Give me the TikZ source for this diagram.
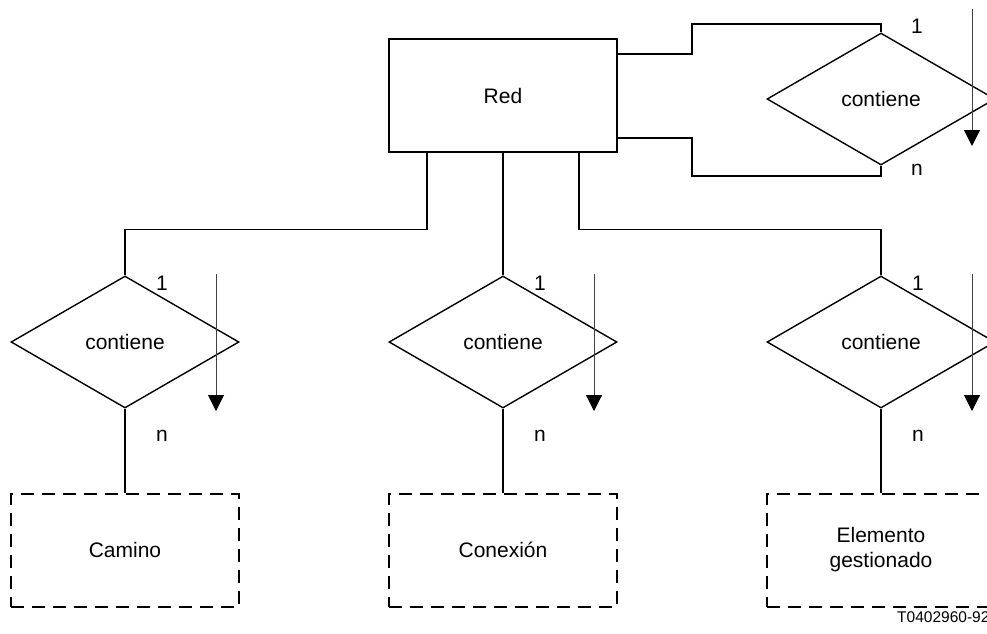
\documentclass[tikz,border=0pt]{standalone}
\usepackage{fontspec}
\setmainfont{Liberation Sans}
\usetikzlibrary{shapes.geometric,arrows.meta}
\tikzset{
  box/.style={draw, line width=1.5pt, minimum width=228pt, minimum height=113pt, inner sep=0pt, font=\fontsize{21}{25}\selectfont, align=center},
  dbox/.style={box, line width=2pt, dash pattern=on 13pt off 8pt},
  rel/.style={draw, diamond, line width=1.4pt, minimum width=228pt, minimum height=132pt, inner sep=0pt, font=\fontsize{21}{25}\selectfont},
  lbl/.style={font=\fontsize{21}{25}\selectfont, inner sep=0pt},
  conn/.style={line width=1.4pt},
  thick conn/.style={line width=2.2pt},
  dirarrow/.style={line width=1pt, black!75, -{Triangle[width=16pt,length=16pt,color=black]}}
}
\begin{document}
\begin{tikzpicture}[x=1pt,y=-1pt]
\useasboundingbox (0,0) rectangle (987,633);
\clip (0,0) rectangle (987,633);
% entities
\node[box] (red) at (503,95.5) {Red};
\node[rel] (dT) at (881,99) {contiene};
\node[rel] (d1) at (125,342) {contiene};
\node[rel] (d2) at (503,342) {contiene};
\node[rel] (d3) at (881,342) {contiene};
\node[dbox] (b1) at (125,550) {Camino};
\node[dbox] (b2) at (503,550) {Conexión};
\node[dbox] (b3) at (881,550) {Elemento\\gestionado};
% cardinality labels
\node[lbl] (lT1) at (917,26) {1};
\node[lbl] (lTn) at (917,170) {n};
\node[lbl] (l11) at (162,283) {1};
\node[lbl] (l21) at (540,283) {1};
\node[lbl] (l31) at (918,283) {1};
\node[lbl] (l1n) at (162,436) {n};
\node[lbl] (l2n) at (540,436) {n};
\node[lbl] (l3n) at (918,436) {n};
% connectors
\draw[conn] ([yshift=41.5pt]red.east) -- (692,54) -- (692,24) -| (dT.north);
\draw[conn] ([yshift=-42.5pt]red.east) -- (692,138) -- (692,176) -| (dT.south);
\draw[conn] ([xshift=-76pt]red.south) -- ++(0,77) -| (d1.north);
\draw[thick conn] (red.south) -- (d2.north);
\draw[conn] ([xshift=76pt]red.south) -- ++(0,77) -| (d3.north);
\draw[thick conn] (d1.south) -- (b1.north);
\draw[thick conn] (d2.south) -- (b2.north);
\draw[thick conn] (d3.south) -- (b3.north);
% direction arrows
\coordinate (aTs) at (972,9);   \coordinate (aTe) at (972,146);
\coordinate (a1s) at (216,274); \coordinate (a1e) at (216,411);
\coordinate (a2s) at (594,274); \coordinate (a2e) at (594,411);
\coordinate (a3s) at (972,274); \coordinate (a3e) at (972,411);
\draw[dirarrow] (aTs) -- (aTe);
\draw[dirarrow] (a1s) -- (a1e);
\draw[dirarrow] (a2s) -- (a2e);
\draw[dirarrow] (a3s) -- (a3e);
% figure code (cut at the right edge, as in the reference)
\node[anchor=west, inner sep=0pt, font=\fontsize{15.5}{18}\selectfont] (code) at (897,617) {T0402960-92};
\end{tikzpicture}
\end{document}
